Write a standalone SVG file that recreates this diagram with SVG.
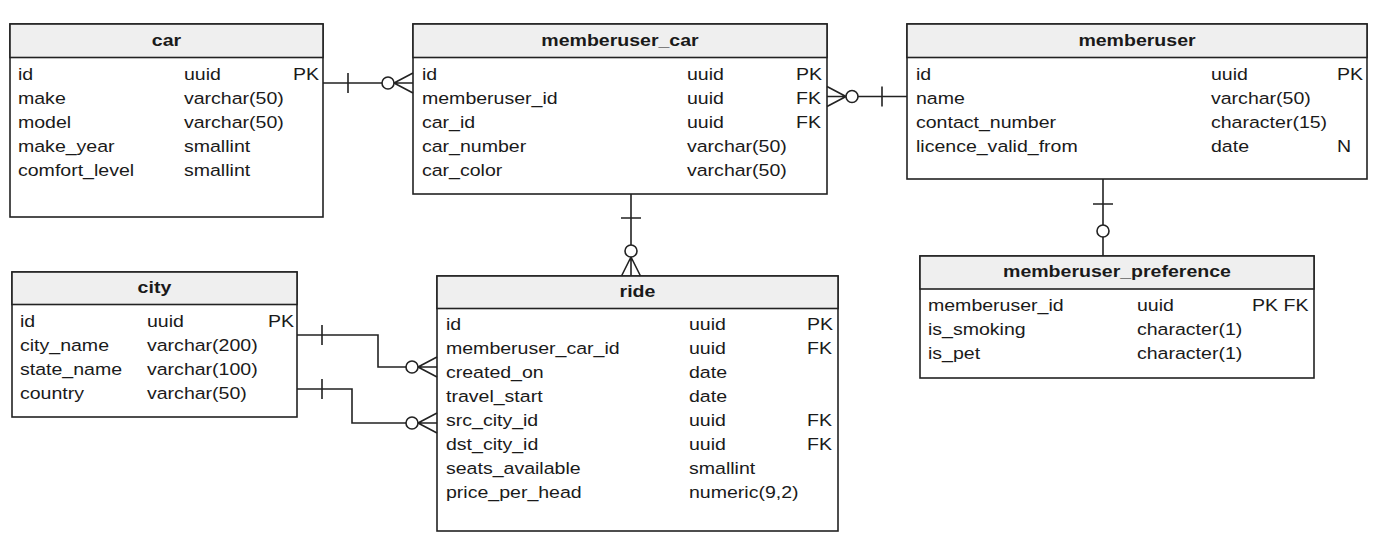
<svg xmlns="http://www.w3.org/2000/svg" width="1387" height="544" viewBox="0 0 1387 544">
<style>
.box{fill:#ffffff;stroke:#222;stroke-width:1.6}
.hd{fill:#efefef;stroke:#222;stroke-width:1.6}
.ln{fill:none;stroke:#222;stroke-width:1.6}
.ci{fill:#ffffff;stroke:#222;stroke-width:1.6}
text{font-family:"Liberation Sans",Arial,sans-serif;font-size:17px;fill:#1a1a1a;transform-box:fill-box;transform-origin:0 0;transform:scaleX(1.15)}
text.h{font-weight:bold;text-anchor:middle;transform-origin:50% 0}
</style>
<rect width="1387" height="544" fill="#ffffff"/>

<g id="car">
<rect class="box" x="10" y="24" width="313" height="193"/>
<rect class="hd" x="10" y="24" width="313" height="33.5"/>
<text class="h" x="166.5" y="46">car</text>
<text x="18" y="80">id</text><text x="184" y="80">uuid</text><text x="293" y="80">PK</text>
<text x="18" y="104">make</text><text x="184" y="104">varchar(50)</text>
<text x="18" y="128">model</text><text x="184" y="128">varchar(50)</text>
<text x="18" y="152">make_year</text><text x="184" y="152">smallint</text>
<text x="18" y="176">comfort_level</text><text x="184" y="176">smallint</text>
</g>

<g id="memberuser_car">
<rect class="box" x="413" y="24" width="414" height="170"/>
<rect class="hd" x="413" y="24" width="414" height="33.5"/>
<text class="h" x="620" y="46">memberuser_car</text>
<text x="422" y="80">id</text><text x="687" y="80">uuid</text><text x="796" y="80">PK</text>
<text x="422" y="104">memberuser_id</text><text x="687" y="104">uuid</text><text x="796" y="104">FK</text>
<text x="422" y="128">car_id</text><text x="687" y="128">uuid</text><text x="796" y="128">FK</text>
<text x="422" y="152">car_number</text><text x="687" y="152">varchar(50)</text>
<text x="422" y="176">car_color</text><text x="687" y="176">varchar(50)</text>
</g>

<g id="memberuser">
<rect class="box" x="907" y="24" width="460" height="155"/>
<rect class="hd" x="907" y="24" width="460" height="33.5"/>
<text class="h" x="1137" y="46">memberuser</text>
<text x="916" y="80">id</text><text x="1211" y="80">uuid</text><text x="1337" y="80">PK</text>
<text x="916" y="104">name</text><text x="1211" y="104">varchar(50)</text>
<text x="916" y="128">contact_number</text><text x="1211" y="128">character(15)</text>
<text x="916" y="152">licence_valid_from</text><text x="1211" y="152">date</text><text x="1337" y="152">N</text>
</g>

<g id="memberuser_preference">
<rect class="box" x="920" y="256" width="394" height="122"/>
<rect class="hd" x="920" y="256" width="394" height="33"/>
<text class="h" x="1117" y="277">memberuser_preference</text>
<text x="928" y="311">memberuser_id</text><text x="1137" y="311">uuid</text><text x="1252" y="311">PK FK</text>
<text x="928" y="335">is_smoking</text><text x="1137" y="335">character(1)</text>
<text x="928" y="359">is_pet</text><text x="1137" y="359">character(1)</text>
</g>

<g id="city">
<rect class="box" x="12" y="272" width="285" height="145"/>
<rect class="hd" x="12" y="272" width="285" height="32.5"/>
<text class="h" x="154.5" y="293">city</text>
<text x="20" y="327">id</text><text x="147" y="327">uuid</text><text x="268" y="327">PK</text>
<text x="20" y="351">city_name</text><text x="147" y="351">varchar(200)</text>
<text x="20" y="375">state_name</text><text x="147" y="375">varchar(100)</text>
<text x="20" y="399">country</text><text x="147" y="399">varchar(50)</text>
</g>

<g id="ride">
<rect class="box" x="437" y="276" width="401" height="255"/>
<rect class="hd" x="437" y="276" width="401" height="32.5"/>
<text class="h" x="637.5" y="297">ride</text>
<text x="446" y="330">id</text><text x="689" y="330">uuid</text><text x="807" y="330">PK</text>
<text x="446" y="354">memberuser_car_id</text><text x="689" y="354">uuid</text><text x="807" y="354">FK</text>
<text x="446" y="378">created_on</text><text x="689" y="378">date</text>
<text x="446" y="402">travel_start</text><text x="689" y="402">date</text>
<text x="446" y="426">src_city_id</text><text x="689" y="426">uuid</text><text x="807" y="426">FK</text>
<text x="446" y="450">dst_city_id</text><text x="689" y="450">uuid</text><text x="807" y="450">FK</text>
<text x="446" y="474">seats_available</text><text x="689" y="474">smallint</text>
<text x="446" y="498">price_per_head</text><text x="689" y="498">numeric(9,2)</text>
</g>

<g id="connectors">
<!-- car -> memberuser_car -->
<path class="ln" d="M323,83 H382 M348,73 V93 M394,83 L413,73 M394,83 H413 M394,83 L413,93"/>
<circle class="ci" cx="388" cy="83" r="6"/>
<!-- memberuser_car -> memberuser -->
<path class="ln" d="M858,96.5 H907 M882,86.5 V106.5 M846,96.5 L827,86.5 M846,96.5 H827 M846,96.5 L827,106.5"/>
<circle class="ci" cx="852" cy="96.5" r="6"/>
<!-- memberuser_car -> ride -->
<path class="ln" d="M631,194 V245 M621,218 H641 M631,257 L621.5,276 M631,257 V276 M631,257 L640.5,276"/>
<circle class="ci" cx="631" cy="251" r="6"/>
<!-- memberuser -> memberuser_preference -->
<path class="ln" d="M1103,179 V225 M1093,204 H1113 M1103,237 V256"/>
<circle class="ci" cx="1103" cy="231" r="6"/>
<!-- city -> ride (created_on) -->
<path class="ln" d="M297,335 H378 V367 H406 M322,325 V345 M418,367 L437,357 M418,367 H437 M418,367 L437,377"/>
<circle class="ci" cx="412" cy="367" r="6"/>
<!-- city -> ride (src_city_id) -->
<path class="ln" d="M297,389 H352 V423 H406 M322,379 V399 M418,423 L437,413 M418,423 H437 M418,423 L437,433"/>
<circle class="ci" cx="412" cy="423" r="6"/>
</g>
</svg>
